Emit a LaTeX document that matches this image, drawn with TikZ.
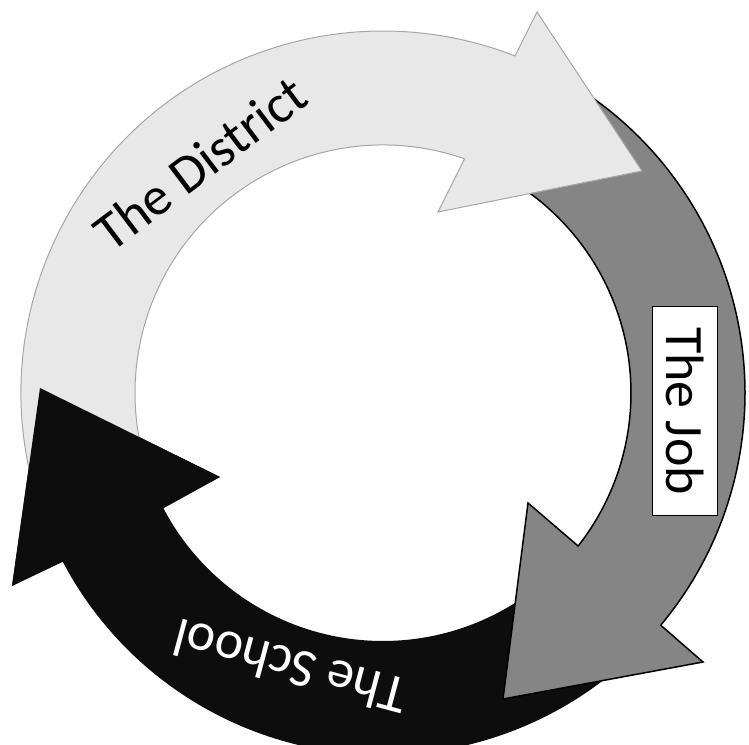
\documentclass[tikz,border=0pt]{standalone}
\usepackage{fontspec}
\setmainfont{Carlito}
\begin{document}
\begin{tikzpicture}[x=1pt,y=1pt,line join=miter,
  distarrow/.style={fill=black!9, draw=black!35, line width=1pt},
  jobarrow/.style={fill=black!48, draw=black, line width=1.5pt},
  schoolarrow/.style={fill=black!95},
  lbl/.style={font=\fontsize{54}{60}\selectfont, inner sep=0pt}]
\useasboundingbox (-383,-351) rectangle (366,393);
\clip (-383,-351) rectangle (366,393);
% The School (bottom, dark)
\path[schoolarrow] (-50:362pt) arc[start angle=-50, end angle=-152.2, radius=362pt]
  -- (-371,-193) -- (-343,5) -- (-163,-84) -- (-152.3:248pt)
  arc[start angle=-152.3, end angle=-50, radius=248pt] -- cycle;
% The Job (right, medium gray)
\path[jobarrow] (57:362pt) arc[start angle=57, end angle=-39.9, radius=362pt]
  -- (320,-269) -- (120,-306) -- (145,-110) -- (-38.1:248pt)
  arc[start angle=-38.1, end angle=57, radius=248pt] -- cycle;
% The District (top, light)
\path[distarrow] (195:362pt) arc[start angle=195, end angle=68.6, radius=362pt]
  -- (154,381) -- (259,222) -- (55,181) -- (70.8:248pt)
  arc[start angle=70.8, end angle=195, radius=248pt] -- cycle;
% School arrowhead over the District tail
\fill[schoolarrow] (-371,-193) -- (-343,5) -- (-163,-84) -- cycle;
% labels
\node[lbl, text=black, rotate=37] (district) at (-183,230) {The District};
\node[lbl, text=white, rotate=165] (school) at (-93,-274) {The School};
\node[lbl, draw=black, fill=white, line width=1pt, rotate=-90,
  minimum width=208pt, minimum height=65pt] (job) at (302,-18) {The Job};
\end{tikzpicture}
\end{document}
